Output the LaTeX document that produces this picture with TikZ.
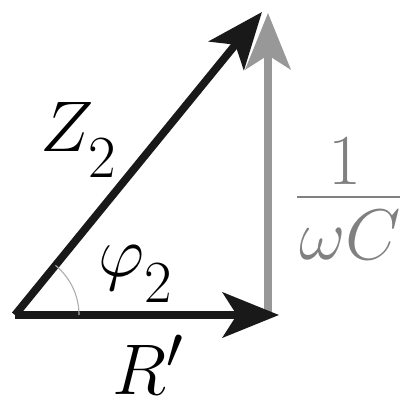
\documentclass[tikz,border=0pt]{standalone}
\usetikzlibrary{arrows.meta,angles}
\definecolor{vecgray}{RGB}{152,152,152}
\definecolor{txtgray}{RGB}{128,128,128}
\definecolor{arcgray}{RGB}{175,175,175}
\newcommand\lowsub[1]{\raisebox{-5pt}{$\scriptstyle #1$}}
\begin{document}
\begin{tikzpicture}[x=0.025cm, y=0.025cm, font=\Huge,
		vec/.style={line width=5.5pt, -{Stealth[length=40pt,width=32pt,inset=10pt]}},
		lbl/.style={inner sep=0, scale=2.05}]
				\useasboundingbox (0,0) rectangle (412,411);
				\path
				(15,96) coordinate (O)
				(279,96) coordinate (R)
				(268,96) coordinate (B)
				(268,398) coordinate (X)
				(262,399) coordinate (Z)
				;
				\draw[vec, black!90] (O)--(Z);
				\draw[vec, vecgray] (B)--(X);
				\draw[vec, black!90] (O)--(R);
				\pic[draw=arcgray, line width=0.8pt, angle radius=1.6cm] {angle=R--O--Z};
				% labels
				\node[lbl, anchor=base west] (z2) at (40,259) {$Z_{\lowsub{2}}$};
				\node[lbl, anchor=base west] (phi2) at (98,134) {$\varphi_{\lowsub{2}}$};
				\node[lbl, anchor=base west] (rr) at (112,16) {$R'$};
				\node[lbl, anchor=base, txtgray] (num) at (345,226) {$1$};
				\node[lbl, anchor=base, txtgray] (den) at (350,151) {$\omega C$};
				\path (297,214) coordinate (b1) (400,214) coordinate (b2);
				\draw[txtgray, line width=2pt] (b1)--(b2);
		\end{tikzpicture}
\end{document}
